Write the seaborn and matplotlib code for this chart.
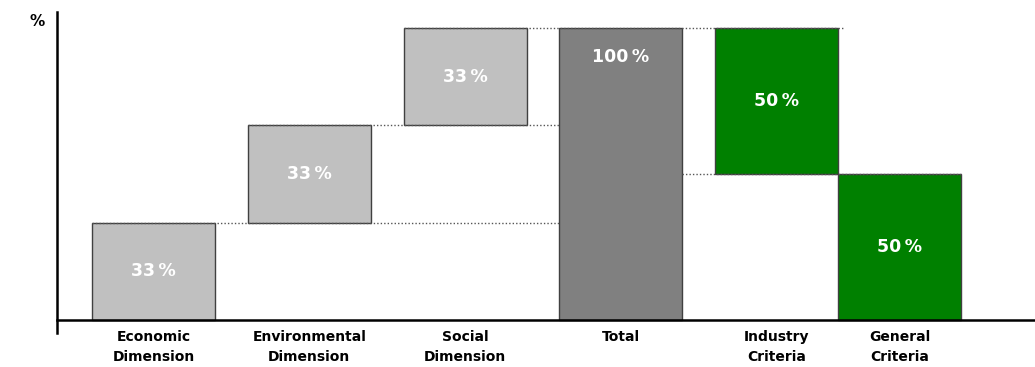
import matplotlib
matplotlib.use("Agg")
import matplotlib.pyplot as plt
import seaborn as sns
import pandas as pd

# waterfall data
categories = ["Economic\nDimension", "Environmental\nDimension", "Social\nDimension",
              "Total", "Industry\nCriteria", "General\nCriteria"]
values = [100 / 3, 100 / 3, 100 / 3, 100, 50, 50]
bottoms = [0, 100 / 3, 200 / 3, 0, 50, 0]
labels = ["33 %", "33 %", "33 %", "100 %", "50 %", "50 %"]

# layout / style
positions = [0, 1, 2, 3, 4, 4.79]
bar_width = 0.79
colors = ["#C0C0C0", "#C0C0C0", "#C0C0C0", "#808080", "#008000", "#008000"]

sns.set_style("white")
plt.rcParams["font.family"] = ["DejaVu Sans"]

fig = plt.figure(figsize=(10.35, 3.67), dpi=100)
ax = fig.add_axes([57 / 1035, 34 / 367, 1 - 57 / 1035, (333 - 12) / 367])

for p, v, b, c in zip(positions, values, bottoms, colors):
    df = pd.DataFrame({"pos": [p], "val": [v]})
    sns.barplot(data=df, x="pos", y="val", native_scale=True, width=bar_width,
                bottom=b, color=c, edgecolor="#404040", linewidth=1,
                saturation=1, ax=ax, zorder=2)

# value labels
for i, (p, v, b, t) in enumerate(zip(positions, values, bottoms, labels)):
    y = b + v - 10 if categories[i] == "Total" else b + v / 2
    ax.text(p, y, t.replace(" ", "\u2009"), color="white", fontsize=12.5,
            fontweight="bold", ha="center", va="center", zorder=3)

# dotted connectors
half = bar_width / 2
tops = [b + v for b, v in zip(bottoms, values)]
dot = (0, (1, 1.5))
ax.hlines(tops[0], positions[0] - half, positions[3] - half, colors="#555555",
          linestyles=dot, lw=1, zorder=3)
ax.hlines(tops[1], positions[1] - half, positions[3] - half, colors="#555555",
          linestyles=dot, lw=1, zorder=3)
ax.hlines(tops[2], positions[2] - half, positions[5] - half + 0.04, colors="#555555",
          linestyles=dot, lw=1, zorder=3)
ax.hlines(bottoms[4], positions[3] + half, positions[5] + half, colors="#555555",
          linestyles=dot, lw=1, zorder=3)

ax.spines["top"].set_visible(False)
ax.spines["right"].set_visible(False)
ax.spines["bottom"].set_position(("data", 0))
for s in ["left", "bottom"]:
    ax.spines[s].set_color("black")
    ax.spines[s].set_linewidth(1.8)

ax.set_xlim(-0.62, 5.66)
ax.set_ylim(-4.45, 105.5)
ax.set_xlabel("")
ax.set_ylabel("")
ax.set_yticks([])
ax.tick_params(axis="x", length=0, pad=7)
ax.set_xticks(positions)
ax.set_xticklabels(categories, linespacing=1.55, fontweight="bold",
                   fontsize=10, color="black")

fig.text(30 / 1035, 1 - 22 / 367, "%", fontsize=11, fontweight="bold",
         color="black", ha="left", va="center")

fig.savefig("out.png", dpi=100)
